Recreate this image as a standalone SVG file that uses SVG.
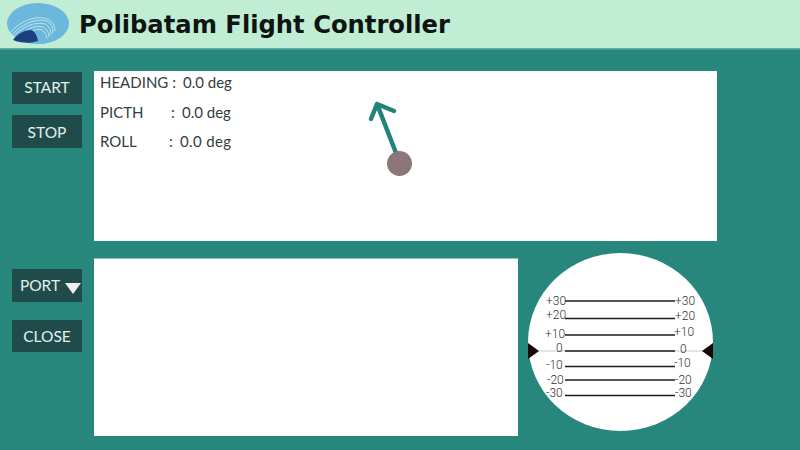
<svg xmlns="http://www.w3.org/2000/svg" width="800" height="450" viewBox="0 0 800 450">
<style>
.ui{font-family:Lato,"Noto Sans",sans-serif;font-size:15px;fill:#333d3d}
.btn{fill:#1f4c4a}
.bt{font-family:Lato,"Noto Sans",sans-serif;font-size:15.5px;fill:#e4efec;text-anchor:middle}
.sc{font-family:Roboto,"Noto Sans",sans-serif;font-weight:300;font-size:12px;fill:#333}
.ln{stroke:#1c1c1c;stroke-width:1.4}
.arc{fill:none;stroke:#d5eef0;stroke-width:.8}
</style>
<rect width="800" height="450" fill="#28877d"/>
<g id="header">
<rect width="800" height="48" fill="#c1edd5"/>
<rect y="48" width="800" height="1.500" fill="#5fb09c"/>
<ellipse cx="38" cy="23.500" rx="31" ry="20.500" fill="#6cb7dc"/>
<path class="arc" d="M10 33C20 21 36 15 47 19C52 21 55 25 55 31M11 36C21 24 36 18 46 21C51 23 53 27 53 33M12 38C22 27 35 21 45 24C49 26 51 30 51 35M14 41C24 30 35 24 43 27C47 29 49 33 49 37M17 43C26 33 36 27 42 30C45 32 47 36 47 39"/>
<path d="M13 40C18 33 25 30 31 30C35 31 37 36 38 41C30 44 20 43 13 40Z" fill="#1d3f7f"/>
<text x="79" y="32.500" font-family="'DejaVu Sans',sans-serif" font-weight="700" font-size="25" fill="#0d1512" textLength="371" lengthAdjust="spacingAndGlyphs">Polibatam Flight Controller</text>
</g>
<g id="start"><rect class="btn" x="12" y="72" width="70" height="32"/><text class="bt" x="47" y="93">START</text></g>
<g id="stop"><rect class="btn" x="12" y="115" width="70" height="33"/><text class="bt" x="47" y="138">STOP</text></g>
<g id="port"><rect class="btn" x="12" y="269" width="70" height="33"/><text class="bt" x="40" y="291">PORT</text><path d="M65 283H81L73 294Z" fill="#f2ecec"/></g>
<g id="close"><rect class="btn" x="12" y="320" width="70" height="32"/><text class="bt" x="47" y="342">CLOSE</text></g>
<g id="data-panel">
<rect x="94" y="71" width="623" height="170" fill="#fff"/>
<text class="ui" x="100" y="88">HEADING :</text><text class="ui" x="183" y="88">0.0 deg</text>
<text class="ui" x="100" y="118">PICTH</text><text class="ui" x="171" y="118">:</text><text class="ui" x="182" y="118">0.0 deg</text>
<text class="ui" x="100" y="147">ROLL</text><text class="ui" x="169" y="147">:</text><text class="ui" x="180" y="147" textLength="51">0.0 deg</text>
<path d="M396 153L377 104M371 119L377 104L394 111" fill="none" stroke="#23837a" stroke-width="4.500" stroke-linecap="round" stroke-linejoin="round"/>
<circle cx="399.500" cy="163.500" r="12.500" fill="#8b7679"/>
</g>
<g id="log-panel"><rect x="94" y="258.500" width="424" height="177.500" fill="#fff"/></g>
<g id="attitude">
<ellipse cx="620.500" cy="342" rx="92.500" ry="89" fill="#fff"/>
<path d="M528 351H713" stroke="#ccc" stroke-width="1"/>
<path class="ln" d="M565 301H675M565 318.500H675M565 335H675M565 351H675M565 366.500H675M565 380H675M565 395.500H675"/>
<path d="M528 343L539 351L528 359ZM713 343L702 351L713 359Z" fill="#170808"/>
<text class="sc" x="546" y="305">+30</text><text class="sc" x="675" y="305">+30</text>
<text class="sc" x="546" y="319">+20</text><text class="sc" x="675" y="320">+20</text>
<text class="sc" x="545" y="338">+10</text><text class="sc" x="674" y="336">+10</text>
<text class="sc" x="556" y="352">0</text><text class="sc" x="680" y="353">0</text>
<text class="sc" x="546" y="369">-10</text><text class="sc" x="674" y="367">-10</text>
<text class="sc" x="547" y="384">-20</text><text class="sc" x="675" y="384">-20</text>
<text class="sc" x="546" y="397">-30</text><text class="sc" x="675" y="397">-30</text>
</g>
</svg>
